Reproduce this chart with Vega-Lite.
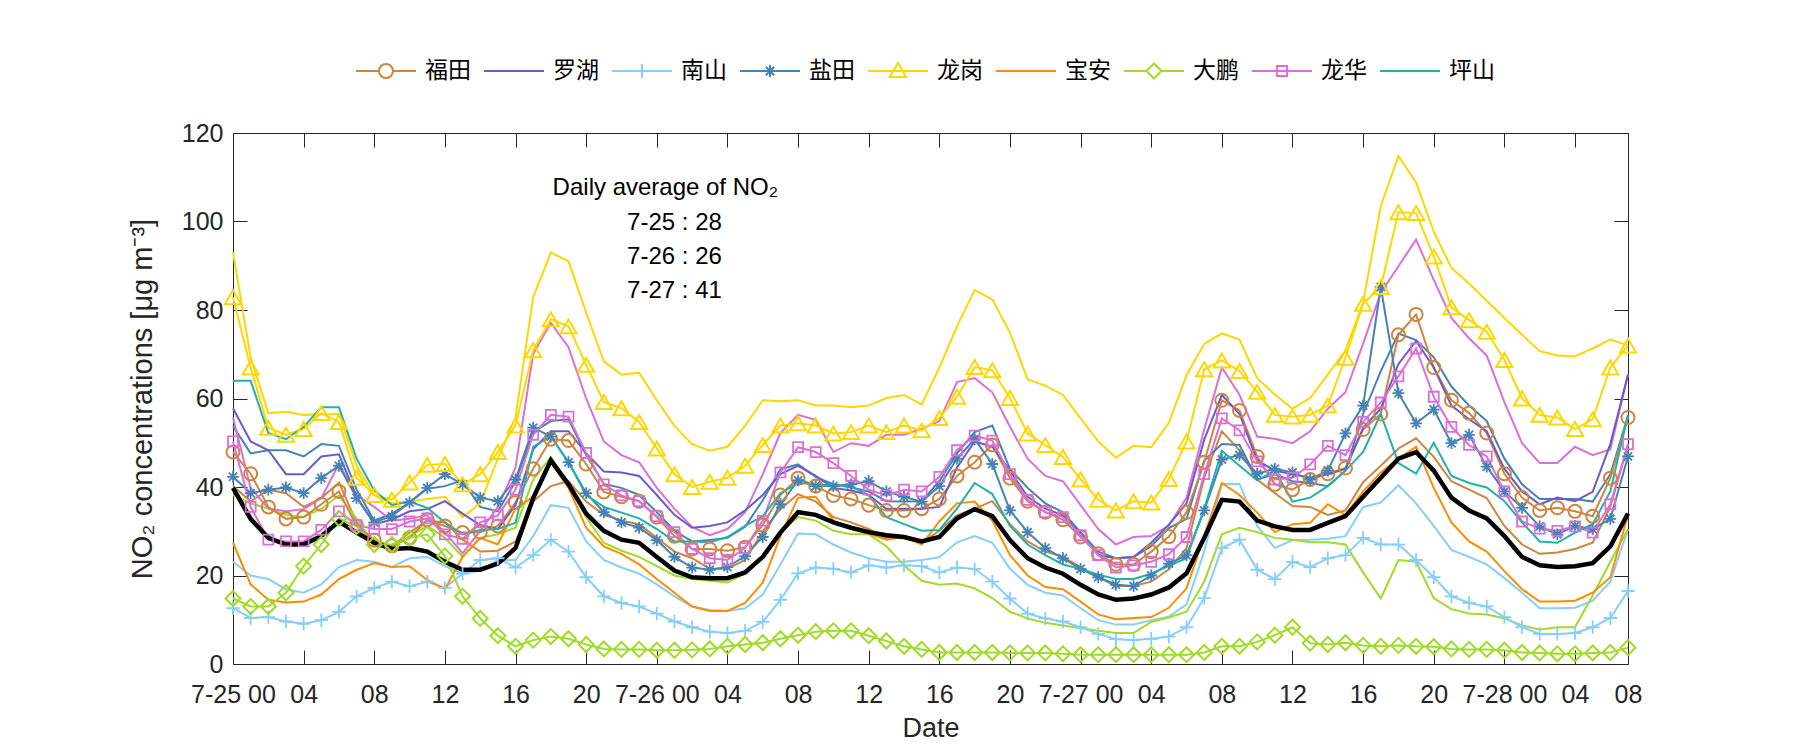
{
"$schema": "https://vega.github.io/schema/vega-lite/v6.json",
"width": 1395, "height": 531,
"autosize": {"type": "none"},
"padding": {"left": 233, "top": 133, "right": 172, "bottom": 86},
"background": "white",
"config": {
  "font": "Liberation Sans",
  "view": {"stroke": "#262626", "strokeWidth": 1},
  "axis": {"grid": false, "domain": false, "tickColor": "#262626", "labelColor": "#262626", "titleColor": "#262626", "labelFontSize": 25, "titleFontSize": 27, "titleFontWeight": "normal", "tickSize": -14, "tickWidth": 1}
},
"datasets": {
"obs": [
{"h":0,"福田":47.9,"罗湖":57.8,"南山":12.6,"盐田":42.3,"龙岗":82.9,"宝安":27.4,"大鹏":14.8,"龙华":50.3,"坪山":64,"avg":39.8},
{"h":1,"福田":43,"罗湖":50.3,"南山":10.4,"盐田":38.6,"龙岗":67,"宝安":18,"大鹏":13,"龙华":35.5,"坪山":64,"avg":32.8},
{"h":2,"福田":35.5,"罗湖":48.3,"南山":10.6,"盐田":39.4,"龙岗":53.4,"宝安":14.5,"大鹏":13,"龙华":28.1,"坪山":52.2,"avg":28.5},
{"h":3,"福田":32.8,"罗湖":42.9,"南山":9.6,"盐田":39.9,"龙岗":51.8,"宝安":13.9,"大鹏":16.1,"龙华":27.7,"坪山":50.8,"avg":27},
{"h":4,"福田":33.2,"罗湖":42.9,"南山":9.1,"盐田":38.6,"龙岗":53.1,"宝安":14.1,"大鹏":22.1,"龙华":27.7,"坪山":53.6,"avg":27},
{"h":5,"福田":36.1,"罗湖":46.9,"南山":9.9,"盐田":42,"龙岗":56.7,"宝安":15.7,"大鹏":27,"龙华":30.3,"坪山":58,"avg":28.9},
{"h":6,"福田":39,"罗湖":47.4,"南山":11.8,"盐田":44.8,"龙岗":54.7,"宝安":19.2,"大鹏":32.9,"龙华":34.5,"坪山":58,"avg":32.2},
{"h":7,"福田":31.2,"罗湖":37.8,"南山":15.3,"盐田":37.5,"龙岗":42.1,"宝安":21.3,"大鹏":31.1,"龙华":31.4,"坪山":46.4,"avg":29.7},
{"h":8,"福田":28,"罗湖":31.6,"南山":17.2,"盐田":32,"龙岗":38.2,"宝安":22.8,"大鹏":27,"龙华":30.5,"坪山":39.2,"avg":27.4},
{"h":9,"福田":26.7,"罗湖":32.6,"南山":18.6,"盐田":33.4,"龙岗":37.1,"宝安":21.9,"大鹏":27,"龙华":30.5,"坪山":35.9,"avg":26},
{"h":10,"福田":28.5,"罗湖":34.5,"南山":17.6,"盐田":36.5,"龙岗":41,"宝安":22.1,"大鹏":28.5,"龙华":32.2,"坪山":36.7,"avg":26.2},
{"h":11,"福田":32.6,"罗湖":35,"南山":18.6,"盐田":39.8,"龙岗":45,"宝安":19,"大鹏":29.3,"龙华":32.9,"坪山":35.3,"avg":25.4},
{"h":12,"福田":31.2,"罗湖":36.8,"南山":17.2,"盐田":42.9,"龙岗":45.2,"宝安":16.9,"大鹏":24.4,"龙华":29.3,"坪山":32,"avg":23.1},
{"h":13,"福田":29.7,"罗湖":34,"南山":20.4,"盐田":40.6,"龙岗":40.6,"宝安":24.2,"大鹏":15.3,"龙华":28.3,"坪山":29.3,"avg":21.3},
{"h":14,"福田":29.8,"罗湖":31.4,"南山":23.5,"盐田":37.6,"龙岗":42.9,"宝安":28.5,"大鹏":10.3,"龙华":32,"坪山":30.3,"avg":21.3},
{"h":15,"福田":31.2,"罗湖":30.5,"南山":23.9,"盐田":36.8,"龙岗":47.9,"宝安":27,"大鹏":6.4,"龙华":33.6,"坪山":30.5,"avg":22.7},
{"h":16,"福田":36.5,"罗湖":35.9,"南山":21.8,"盐田":41.7,"龙岗":53.9,"宝安":35.1,"大鹏":4,"龙华":39.4,"坪山":31.9,"avg":26.2},
{"h":17,"福田":44.1,"罗湖":48.5,"南山":24.6,"盐田":53.4,"龙岗":70.9,"宝安":37.8,"大鹏":5.4,"龙华":51.8,"坪山":49.1,"avg":37.5},
{"h":18,"福田":50.8,"罗湖":52.6,"南山":28.1,"盐田":51.4,"龙岗":77.9,"宝安":45.6,"大鹏":6.2,"龙华":56.3,"坪山":51.4,"avg":46},
{"h":19,"福田":50.5,"罗湖":52.6,"南山":25.4,"盐田":45.6,"龙岗":76.3,"宝安":39.8,"大鹏":5.7,"龙华":55.9,"坪山":45.6,"avg":40.6},
{"h":20,"福田":45.2,"罗湖":47.6,"南山":19.6,"盐田":38.6,"龙岗":67.6,"宝安":30.8,"大鹏":4.4,"龙华":47.7,"坪山":38.2,"avg":34},
{"h":21,"福田":38.9,"罗湖":43.5,"南山":15.3,"盐田":34.3,"龙岗":59.2,"宝安":26.6,"大鹏":3.4,"龙华":40.6,"坪山":35.5,"avg":30.1},
{"h":22,"福田":37.8,"罗湖":43.3,"南山":13.8,"盐田":32,"龙岗":57.8,"宝安":24.9,"大鹏":3.3,"龙华":38.1,"坪山":34.2,"avg":28.1},
{"h":23,"福田":36.8,"罗湖":42.5,"南山":13,"盐田":30.8,"龙岗":54.7,"宝安":22.5,"大鹏":3.3,"龙华":36.8,"坪山":32.9,"avg":27.4},
{"h":24,"福田":33.2,"罗湖":38.2,"南山":11.4,"盐田":28,"龙岗":48.7,"宝安":19.2,"大鹏":3.1,"龙华":33.4,"坪山":30.5,"avg":24.2},
{"h":25,"福田":28.9,"罗湖":33.7,"南山":9.6,"盐田":24.2,"龙岗":42.9,"宝安":16.1,"大鹏":3.1,"龙华":29.8,"坪山":27.7,"avg":21.1},
{"h":26,"福田":26,"罗湖":30.8,"南山":8.3,"盐田":21.8,"龙岗":40,"宝安":13,"大鹏":3.2,"龙华":26,"坪山":27.7,"avg":19.6},
{"h":27,"福田":26,"罗湖":31.2,"南山":7.3,"盐田":21.3,"龙岗":41.2,"宝安":12,"大鹏":3.4,"龙华":23.9,"坪山":27.5,"avg":19.4},
{"h":28,"福田":25.6,"罗湖":32,"南山":7,"盐田":21.9,"龙岗":42.1,"宝安":12,"大鹏":4,"龙华":23.5,"坪山":28.7,"avg":19.4},
{"h":29,"福田":26.4,"罗湖":34.7,"南山":7.5,"盐田":24.4,"龙岗":44.8,"宝安":13.8,"大鹏":4.4,"龙华":26.2,"坪山":31.2,"avg":20.7},
{"h":30,"福田":31.4,"罗湖":38.2,"南山":9.5,"盐田":28.7,"龙岗":49.5,"宝安":18.4,"大鹏":4.8,"龙华":32.4,"坪山":33.4,"avg":24.2},
{"h":31,"福田":38.2,"罗湖":42.9,"南山":14.5,"盐田":36.1,"龙岗":53.9,"宝安":28.9,"大鹏":5.7,"龙华":43.3,"坪山":38.6,"avg":29.7},
{"h":32,"福田":42,"罗湖":44.8,"南山":20.5,"盐田":41.5,"龙岗":54.4,"宝安":37.6,"大鹏":6.5,"龙华":49,"坪山":40.9,"avg":34.3},
{"h":33,"福田":40.2,"罗湖":42.5,"南山":21.8,"盐田":40.2,"龙岗":53.9,"宝安":37.8,"大鹏":7.3,"龙华":47.9,"坪山":40.6,"avg":33.7},
{"h":34,"福田":38.1,"罗湖":39.8,"南山":21.5,"盐田":40.2,"龙岗":52.1,"宝安":32.4,"大鹏":7.5,"龙华":45.4,"坪山":40.4,"avg":32},
{"h":35,"福田":37.3,"罗湖":39.2,"南山":20.7,"盐田":40.6,"龙岗":52.4,"宝安":30.5,"大鹏":7.5,"龙华":42.5,"坪山":40.2,"avg":30.8},
{"h":36,"福田":35.9,"罗湖":38.2,"南山":22.3,"盐田":41.3,"龙岗":53.9,"宝安":29.5,"大鹏":6.4,"龙华":39.4,"坪山":38.1,"avg":29.8},
{"h":37,"福田":34.7,"罗湖":35.1,"南山":21.8,"盐田":39,"龙岗":52.4,"宝安":28.1,"大鹏":5.2,"龙华":38.1,"坪山":33.2,"avg":29.1},
{"h":38,"福田":34.7,"罗湖":35.1,"南山":22.3,"盐田":37.8,"龙岗":53.9,"宝安":28.7,"大鹏":4,"龙华":39.4,"坪山":31.6,"avg":28.7},
{"h":39,"福田":35.1,"罗湖":35.1,"南山":22.1,"盐田":36.7,"龙岗":52.8,"宝安":27,"大鹏":3.3,"龙华":39,"坪山":30.1,"avg":27.7},
{"h":40,"福田":37.3,"罗湖":35.5,"南山":20.7,"盐田":40.2,"龙岗":55.6,"宝安":32.2,"大鹏":2.6,"龙华":42.3,"坪山":30.3,"avg":28.7},
{"h":41,"福田":42.5,"罗湖":44.4,"南山":21.8,"盐田":46.4,"龙岗":60.4,"宝安":36.3,"大鹏":2.6,"龙华":48.3,"坪山":35.1,"avg":32.9},
{"h":42,"福田":45.6,"罗湖":50.3,"南山":21.5,"盐田":50.8,"龙岗":67.1,"宝安":36.7,"大鹏":2.6,"龙华":51.6,"坪山":40.9,"avg":35},
{"h":43,"福田":49.5,"罗湖":49.1,"南山":18.6,"盐田":45.2,"龙岗":66.4,"宝安":32.4,"大鹏":2.6,"龙华":50.5,"坪山":38.4,"avg":33.4},
{"h":44,"福田":42,"罗湖":43.7,"南山":14.8,"盐田":34.7,"龙岗":60.1,"宝安":24.6,"大鹏":2.5,"龙华":42.9,"坪山":31.2,"avg":28},
{"h":45,"福田":36.8,"罗湖":37.8,"南山":11.4,"盐田":29.8,"龙岗":52.1,"宝安":20,"大鹏":2.5,"龙华":37.1,"坪山":27,"avg":23.9},
{"h":46,"福田":34.3,"罗湖":35.1,"南山":10.3,"盐田":26.2,"龙岗":49.5,"宝安":17.4,"大鹏":2.5,"龙华":34.3,"坪山":24.6,"avg":21.8},
{"h":47,"福田":32.6,"罗湖":33.6,"南山":9.6,"盐田":23.9,"龙岗":46.8,"宝安":16.9,"大鹏":2.3,"龙华":33.2,"坪山":22.5,"avg":20.4},
{"h":48,"福田":28.7,"罗湖":29.3,"南山":8.3,"盐田":21.5,"龙岗":41.7,"宝安":14.1,"大鹏":2.1,"龙华":29.1,"坪山":21.5,"avg":17.9},
{"h":49,"福田":24.9,"罗湖":24.6,"南山":6.8,"盐田":19.6,"龙岗":37.1,"宝安":11.2,"大鹏":2.1,"龙华":24.6,"坪山":20.2,"avg":15.7},
{"h":50,"福田":22.5,"罗湖":23.9,"南山":5.6,"盐田":17.9,"龙岗":34.7,"宝安":10.1,"大鹏":2.1,"龙华":21.8,"坪山":19.2,"avg":14.5},
{"h":51,"福田":22.5,"罗湖":24.2,"南山":5.4,"盐田":17.6,"龙岗":36.8,"宝安":10.4,"大鹏":2.1,"龙华":22.3,"坪山":19.2,"avg":14.8},
{"h":52,"福田":25.4,"罗湖":27.4,"南山":5.7,"盐田":20,"龙岗":36.5,"宝安":10.6,"大鹏":2.1,"龙华":23.1,"坪山":20.4,"avg":15.7},
{"h":53,"福田":28.8,"罗湖":31.5,"南山":6.2,"盐田":22.7,"龙岗":41.8,"宝安":12.7,"大鹏":2.1,"龙华":24.8,"坪山":22.2,"avg":17.3},
{"h":54,"福田":34.3,"罗湖":36.3,"南山":8.3,"盐田":24.6,"龙岗":50.3,"宝安":17.1,"大鹏":2.1,"龙华":28.7,"坪山":23.9,"avg":20.5},
{"h":55,"福田":45.6,"罗湖":50.7,"南山":14.9,"盐田":34.7,"龙岗":66.6,"宝安":28.9,"大鹏":2.6,"龙华":42.9,"坪山":35.1,"avg":28.5},
{"h":56,"福田":59.6,"罗湖":60.8,"南山":26.2,"盐田":46.2,"龙岗":68.6,"宝安":40.9,"大鹏":4,"龙华":55.5,"坪山":48.2,"avg":37.1},
{"h":57,"福田":57.3,"罗湖":56.5,"南山":28.1,"盐田":47.2,"龙岗":66.2,"宝安":38.2,"大鹏":4,"龙华":52.8,"坪山":44.8,"avg":36.7},
{"h":58,"福田":46.9,"罗湖":46,"南山":21.3,"盐田":43,"龙岗":61.5,"宝安":34.2,"大鹏":5,"龙华":45.8,"坪山":41.5,"avg":32.4},
{"h":59,"福田":40.6,"罗湖":43.7,"南山":19.2,"盐田":44.1,"龙岗":56.3,"宝安":29.8,"大鹏":6.5,"龙华":41.7,"坪山":43.7,"avg":31.1},
{"h":60,"福田":39.4,"罗湖":42.9,"南山":23.1,"盐田":43.3,"龙岗":55.9,"宝安":31.6,"大鹏":8.3,"龙华":42.1,"坪山":36.7,"avg":30.3},
{"h":61,"福田":41.7,"罗湖":42.1,"南山":21.9,"盐田":41.7,"龙岗":56.3,"宝安":31.9,"大鹏":4.7,"龙华":45.1,"坪山":37.6,"avg":30.3},
{"h":62,"福田":43,"罗湖":42.9,"南山":23.9,"盐田":43.7,"龙岗":58.4,"宝安":36.1,"大鹏":4.4,"龙华":49.3,"坪山":40.2,"avg":31.9},
{"h":63,"福田":44.3,"罗湖":44.1,"南山":24.6,"盐田":52.1,"龙岗":69.2,"宝安":33.7,"大鹏":4.8,"龙华":47.2,"坪山":43.7,"avg":33.4},
{"h":64,"福田":53,"罗湖":53.4,"南山":28.5,"盐田":58.4,"龙岗":81.4,"宝安":39,"大鹏":4.2,"龙华":54.7,"坪山":47.9,"avg":37.8},
{"h":65,"福田":56.5,"罗湖":57.7,"南山":27,"盐田":85.2,"龙岗":85.2,"宝安":43.3,"大鹏":4,"龙华":59.1,"坪山":56.5,"avg":42.1},
{"h":66,"福田":74.4,"罗湖":67.8,"南山":27,"盐田":61.2,"龙岗":102.1,"宝安":46.4,"大鹏":4.2,"龙华":65,"坪山":45.4,"avg":46.4},
{"h":67,"福田":79,"罗湖":73,"南山":23.5,"盐田":54.4,"龙岗":101.9,"宝安":49.1,"大鹏":4,"龙华":71.3,"坪山":43,"avg":47.9},
{"h":68,"福田":67,"罗湖":67,"南山":19.6,"盐田":57.5,"龙岗":92.1,"宝安":39.8,"大鹏":3.9,"龙华":60.4,"坪山":50,"avg":43.7},
{"h":69,"福田":59.6,"罗湖":58.4,"南山":15.3,"盐田":49.9,"龙岗":80.6,"宝安":32,"大鹏":3.4,"龙华":53.6,"坪山":42.5,"avg":37.6},
{"h":70,"福田":56.7,"罗湖":55.3,"南山":13.8,"盐田":51.8,"龙岗":77.7,"宝安":27.7,"大鹏":3.3,"龙华":49.5,"坪山":40.9,"avg":34.7},
{"h":71,"福田":52.2,"罗湖":52.6,"南山":13,"盐田":44.6,"龙岗":75.1,"宝安":25.4,"大鹏":3.3,"龙华":46.9,"坪山":39.9,"avg":32.9},
{"h":72,"福田":43,"罗湖":44.1,"南山":10.6,"盐田":39,"龙岗":68.7,"宝安":21,"大鹏":3.1,"龙华":39,"坪山":36.8,"avg":28.9},
{"h":73,"福田":37.6,"罗湖":39,"南山":8.3,"盐田":35.3,"龙岗":60,"宝安":16.9,"大鹏":2.6,"龙华":32.2,"坪山":32,"avg":24.2},
{"h":74,"福田":34.7,"罗湖":36.1,"南山":6.8,"盐田":31.1,"龙岗":56.3,"宝安":14.1,"大鹏":2.5,"龙华":30.6,"坪山":27.7,"avg":22.3},
{"h":75,"福田":35.3,"罗湖":37.6,"南山":6.8,"盐田":29.3,"龙岗":55.7,"宝安":14.1,"大鹏":2.3,"龙华":30.1,"坪山":27.4,"avg":21.9},
{"h":76,"福田":34.5,"罗湖":36.8,"南山":7,"盐田":31.2,"龙岗":53.1,"宝安":14.3,"大鹏":2.3,"龙华":31.1,"坪山":29.7,"avg":22.1},
{"h":77,"福田":33.4,"罗湖":38.9,"南山":8.3,"盐田":30.5,"龙岗":55.3,"宝安":16.1,"大鹏":2.5,"龙华":29.7,"坪山":31.6,"avg":22.8},
{"h":78,"福田":42,"罗湖":49.7,"南山":10.4,"盐田":32.8,"龙岗":67,"宝安":19.6,"大鹏":2.6,"龙华":36.1,"坪山":39,"avg":26.6},
{"h":79,"福田":55.7,"罗湖":65.4,"南山":16.5,"盐田":46.9,"龙岗":72,"宝安":33.7,"大鹏":3.7,"龙华":49.7,"坪山":56.3,"avg":34}
],
"sim": [
{"h":0,"福田":40.2,"南山":23.1,"盐田":53.8,"龙岗":93,"大鹏":38.2,"龙华":55.7},
{"h":1,"福田":36.7,"南山":20,"盐田":47.6,"龙岗":69.3,"大鹏":36.3,"龙华":39.8},
{"h":2,"福田":39.4,"南山":19.2,"盐田":48.3,"龙岗":56.7,"大鹏":35.1,"龙华":35.1},
{"h":3,"福田":38.6,"南山":16.9,"盐田":48.3,"龙岗":57,"大鹏":33.7,"龙华":34.5},
{"h":4,"福田":35.5,"南山":16.1,"盐田":46.9,"龙岗":56.3,"大鹏":33.2,"龙华":35},
{"h":5,"福田":37.5,"南山":18,"盐田":49.7,"龙岗":56.4,"大鹏":35.1,"龙华":37.5},
{"h":6,"福田":41,"南山":21.9,"盐田":49.3,"龙岗":56.5,"大鹏":38.1,"龙华":45.2},
{"h":7,"福田":32,"南山":23.5,"盐田":39.4,"龙岗":44.8,"大鹏":32.8,"龙华":38.2},
{"h":8,"福田":27.7,"南山":23.1,"盐田":32.4,"龙岗":38.1,"大鹏":26.6,"龙华":35.5},
{"h":9,"福田":26.6,"南山":21.9,"盐田":34,"龙岗":36.3,"大鹏":26.2,"龙华":32.4},
{"h":10,"福田":29.7,"南山":23.9,"盐田":36.5,"龙岗":36.8,"大鹏":28.9,"龙华":32.8},
{"h":11,"福田":32.4,"南山":24.2,"盐田":39.6,"龙岗":37.3,"大鹏":31.2,"龙华":33.6},
{"h":12,"福田":32,"南山":22.1,"盐田":40.2,"龙岗":37.8,"大鹏":28.5,"龙华":29.8},
{"h":13,"福田":28.1,"南山":20.4,"盐田":41.5,"龙岗":33.2,"大鹏":24.2,"龙华":25},
{"h":14,"福田":25.4,"南山":21.1,"盐田":35.5,"龙岗":36.3,"大鹏":28.5,"龙华":30.1},
{"h":15,"福田":25.6,"南山":23.5,"盐田":34.5,"龙岗":46.4,"大鹏":29.3,"龙华":35.5},
{"h":16,"福田":27.7,"南山":23.5,"盐田":41.3,"龙岗":55.7,"大鹏":30.8,"龙华":44.4},
{"h":17,"福田":36.7,"南山":28.9,"盐田":52.4,"龙岗":82.9,"大鹏":41.7,"龙华":70.1},
{"h":18,"福田":40.2,"南山":35.9,"盐田":54.9,"龙岗":93,"大鹏":46.8,"龙华":77.1},
{"h":19,"福田":41.3,"南山":35.3,"盐田":55.3,"龙岗":91,"大鹏":40.6,"龙华":71.6},
{"h":20,"福田":36.7,"南山":27.7,"盐田":47.2,"龙岗":79.4,"大鹏":33.2,"龙华":60},
{"h":21,"福田":33.7,"南山":23.5,"盐田":40.7,"龙岗":68.4,"大鹏":27.4,"龙华":50.3},
{"h":22,"福田":32.4,"南山":21.8,"盐田":39.8,"龙岗":65.4,"大鹏":25.6,"龙华":47.2},
{"h":23,"福田":31.6,"南山":20.4,"盐田":38.2,"龙岗":65.8,"大鹏":24.2,"龙华":45.6},
{"h":24,"福田":28.5,"南山":18,"盐田":34.3,"龙岗":59.6,"大鹏":22.1,"龙华":39.8},
{"h":25,"福田":25.4,"南山":15.3,"盐田":30.1,"龙岗":53.8,"大鹏":20,"龙华":35.1},
{"h":26,"福田":23.9,"南山":13,"盐田":27.7,"龙岗":49.7,"大鹏":19.2,"龙华":31},
{"h":27,"福田":21.5,"南山":12.2,"盐田":28,"龙岗":48.2,"大鹏":18.8,"龙华":29.1},
{"h":28,"福田":21.5,"南山":12,"盐田":28.5,"龙岗":49.1,"大鹏":18.4,"龙华":30.5},
{"h":29,"福田":23.5,"南山":12.6,"盐田":31,"龙岗":53.8,"大鹏":20.4,"龙华":34.3},
{"h":30,"福田":30,"南山":15.7,"盐田":37,"龙岗":59.6,"大鹏":24.2,"龙华":42.9},
{"h":31,"福田":35,"南山":22.5,"盐田":44,"龙岗":59.4,"大鹏":29.7,"龙华":52.2},
{"h":32,"福田":38.4,"南山":29.5,"盐田":45.1,"龙岗":59.6,"大鹏":33.2,"龙华":56.3},
{"h":33,"福田":36.7,"南山":29.3,"盐田":42.3,"龙岗":58.4,"大鹏":32.4,"龙华":55.2},
{"h":34,"福田":33.2,"南山":27,"盐田":40.6,"龙岗":58.4,"大鹏":30.1,"龙华":47.9},
{"h":35,"福田":32,"南山":25.2,"盐田":39.9,"龙岗":58,"大鹏":29.3,"龙华":49.9},
{"h":36,"福田":30.5,"南山":23.9,"盐田":39,"龙岗":58.4,"大鹏":29.3,"龙华":49.3},
{"h":37,"福田":28.5,"南山":23.1,"盐田":36.8,"龙岗":60.1,"大鹏":26.6,"龙华":51.8},
{"h":38,"福田":28.9,"南山":23.1,"盐田":36.7,"龙岗":60.8,"大鹏":22.3,"龙华":51.8},
{"h":39,"福田":27.4,"南山":23.5,"盐田":36.8,"龙岗":58.6,"大鹏":18.8,"龙华":53.1},
{"h":40,"福田":30.1,"南山":24.1,"盐田":41.3,"龙岗":67,"大鹏":17.9,"龙华":54.9},
{"h":41,"福田":33.6,"南山":27.5,"盐田":47.6,"龙岗":76.3,"大鹏":18.2,"龙华":63.7},
{"h":42,"福田":35.1,"南山":28.9,"盐田":52.4,"龙岗":84.5,"大鹏":17.1,"龙华":64.6},
{"h":43,"福田":36.8,"南山":27.4,"盐田":53.9,"龙岗":82.4,"大鹏":14.9,"龙华":61.4},
{"h":44,"福田":31.6,"南山":21.5,"盐田":44.1,"龙岗":74.9,"大鹏":11.8,"龙华":53.6},
{"h":45,"福田":27.7,"南山":17.9,"盐田":39.8,"龙岗":64.3,"大鹏":10.3,"龙华":46.4},
{"h":46,"福田":25.4,"南山":16.1,"盐田":36.3,"龙岗":62.9,"大鹏":9.3,"龙华":42.5},
{"h":47,"福田":24.2,"南山":15.5,"盐田":34.3,"龙岗":60.8,"大鹏":8.7,"龙华":41.3},
{"h":48,"福田":21.9,"南山":12.6,"盐田":29.8,"龙岗":55.5,"大鹏":8.1,"龙华":35.9},
{"h":49,"福田":19.6,"南山":9.9,"盐田":25.4,"龙岗":50.3,"大鹏":7.5,"龙华":30.5},
{"h":50,"福田":17.6,"南山":8.9,"盐田":23.9,"龙岗":46.6,"大鹏":7,"龙华":27},
{"h":51,"福田":17.6,"南山":8.9,"盐田":24.2,"龙岗":49.3,"大鹏":7,"龙华":28.7},
{"h":52,"福田":18.6,"南山":9.9,"盐田":26.6,"龙岗":49,"大鹏":9.5,"龙华":28.9},
{"h":53,"福田":21.4,"南山":10.7,"盐田":30.7,"龙岗":54.5,"大鹏":10.5,"龙华":31.3},
{"h":54,"福田":26.2,"南山":13.5,"盐田":32.8,"龙岗":65.3,"大鹏":11.8,"龙华":37.6},
{"h":55,"福田":42.1,"南山":25.4,"盐田":46,"龙岗":72.3,"大鹏":18.6,"龙华":53},
{"h":56,"福田":52.6,"南山":40.7,"盐田":49.7,"龙岗":74.7,"大鹏":29.3,"龙华":67},
{"h":57,"福田":48.3,"南山":40.7,"盐田":49.5,"龙岗":73.3,"大鹏":30.8,"龙华":60.8},
{"h":58,"福田":41.7,"南山":31.2,"盐田":41.7,"龙岗":64.6,"大鹏":29.8,"龙华":51.4},
{"h":59,"福田":38.6,"南山":26.2,"盐田":42.9,"龙岗":60.9,"大鹏":28.5,"龙华":50.9},
{"h":60,"福田":35.7,"南山":28,"盐田":41.3,"龙岗":57.7,"大鹏":28.1,"龙华":49.9},
{"h":61,"福田":35.5,"南山":28.1,"盐田":40.9,"龙岗":60.1,"大鹏":27.5,"龙华":52.6},
{"h":62,"福田":33.7,"南山":28.3,"盐田":40.2,"龙岗":65.4,"大鹏":27.5,"龙华":57.7},
{"h":63,"福田":34.7,"南山":28.9,"盐田":43.7,"龙岗":70.9,"大鹏":27,"龙华":61.4},
{"h":64,"福田":41.1,"南山":35.5,"盐田":56.5,"龙岗":81.7,"大鹏":20.7,"龙华":72.4},
{"h":65,"福田":44.8,"南山":36.5,"盐田":66.2,"龙岗":103.5,"大鹏":14.8,"龙华":83.9},
{"h":66,"福田":48.7,"南山":40.4,"盐田":74.7,"龙岗":114.8,"大鹏":23.5,"龙华":89.9},
{"h":67,"福田":51,"南山":36.3,"盐田":73.2,"龙岗":108.8,"大鹏":23.1,"龙华":95.9},
{"h":68,"福田":46.8,"南山":31.2,"盐田":69.3,"龙岗":97.7,"大鹏":14.9,"龙华":86.8},
{"h":69,"福田":41.3,"南山":25.8,"盐田":62.7,"龙岗":89.5,"大鹏":12.4,"龙华":78.2},
{"h":70,"福田":39.4,"南山":24.2,"盐田":58.4,"龙岗":86,"大鹏":11.4,"龙华":73.6},
{"h":71,"福田":37.5,"南山":22.5,"盐田":54.9,"龙岗":82.1,"大鹏":11.2,"龙华":69.7},
{"h":72,"福田":31.2,"南山":19.4,"盐田":46.4,"龙岗":78.2,"大鹏":10.3,"龙华":59.2},
{"h":73,"福田":27,"南山":16.1,"盐田":40.6,"龙岗":74.4,"大鹏":8.7,"龙华":49.9},
{"h":74,"福田":24.9,"南山":12.6,"盐田":37.3,"龙岗":70.7,"大鹏":7.8,"龙华":45.4},
{"h":75,"福田":25.2,"南山":12.6,"盐田":37.3,"龙岗":69.7,"大鹏":8.3,"龙华":45.4},
{"h":76,"福田":26,"南山":12.7,"盐田":37.3,"龙岗":69.5,"大鹏":8.3,"龙华":49.1},
{"h":77,"福田":27.4,"南山":14.3,"盐田":36.7,"龙岗":71.3,"大鹏":15.5,"龙华":47.2},
{"h":78,"福田":35.5,"南山":18.6,"盐田":42.9,"龙岗":73.3,"大鹏":23.1,"龙华":48.5},
{"h":79,"福田":49.5,"南山":30.5,"盐田":56.1,"龙岗":72,"大鹏":30.5,"龙华":65.4}
]
},
"resolve": {"axis": {"x": "independent", "y": "independent"}, "legend": {"color": "independent", "shape": "independent"}},
"layer": [
{
  "data": {"name": "sim"},
  "transform": [{"fold": ["福田","南山","盐田","龙岗","大鹏","龙华"], "as": ["st","v"]}],
  "mark": {"type": "line", "strokeWidth": 2},
  "encoding": {
    "x": {"field": "h", "type": "quantitative", "scale": {"domain": [0,79], "nice": false, "zero": false},
      "axis": {"orient": "bottom", "title": "Date", "titlePadding": 8, "values": [0,4,8,12,16,20,24,28,32,36,40,44,48,52,56,60,64,68,72,76,79], "labelPadding": 32, "labelOverlap": false, "labelFlush": false, "labelBound": false,
        "labelExpr": "datum.value == 0 ? '7-25 00' : datum.value == 24 ? '7-26 00' : datum.value == 48 ? '7-27 00' : datum.value == 72 ? '7-28 00' : datum.value == 79 ? '08' : ((datum.value % 24) < 10 ? '0' : '') + (datum.value % 24)"}},
    "y": {"field": "v", "type": "quantitative", "scale": {"domain": [0,120], "nice": false},
      "axis": {"orient": "left", "title": "NO₂ concentrations [μg m⁻³]", "titleFontSize": 29, "values": [0,20,40,60,80,100,120], "labelPadding": 24, "titlePadding": 24}},
    "color": {"field": "st", "type": "nominal", "legend": null,
      "scale": {"domain": ["福田","罗湖","南山","盐田","龙岗","宝安","大鹏","龙华","坪山"], "range": ["#CD853F","#6A5ACD","#87CEFA","#4682B4","#FFD700","#FF8C00","#9FDC26","#DA70D6","#20B2AA"]}},
    "detail": {"field": "st", "type": "nominal"}
  }
},
{
  "data": {"name": "obs"},
  "transform": [{"fold": ["福田","罗湖","南山","盐田","龙岗","宝安","大鹏","龙华","坪山"], "as": ["st","v"]}],
  "mark": {"type": "line", "strokeWidth": 2},
  "encoding": {
    "x": {"field": "h", "type": "quantitative", "scale": {"domain": [0,79], "nice": false, "zero": false}, "axis": null},
    "y": {"field": "v", "type": "quantitative", "scale": {"domain": [0,120], "nice": false}, "axis": null},
    "color": {"field": "st", "type": "nominal", "legend": null}
  }
},
{
  "data": {"name": "obs"},
  "mark": {"type": "line", "strokeWidth": 4.5, "color": "black"},
  "encoding": {
    "x": {"field": "h", "type": "quantitative", "scale": {"domain": [0,79], "nice": false, "zero": false}, "axis": null},
    "y": {"field": "avg", "type": "quantitative", "scale": {"domain": [0,120], "nice": false}, "axis": null}
  }
},
{
  "data": {"name": "obs"},
  "transform": [{"fold": ["福田"], "as": ["st","v"]}],
  "mark": {"type": "point", "shape": "circle", "size": 170, "filled": false, "strokeWidth": 2, "opacity": 1},
  "encoding": {
    "x": {"field": "h", "type": "quantitative", "scale": {"domain": [0,79], "nice": false, "zero": false}, "axis": null},
    "y": {"field": "v", "type": "quantitative", "scale": {"domain": [0,120], "nice": false}, "axis": null},
    "color": {"field": "st", "type": "nominal", "legend": null}
  }
},
{
  "data": {"name": "obs"},
  "transform": [{"fold": ["南山"], "as": ["st","v"]}],
  "mark": {"type": "point", "shape": "M-1,0H1M0,-1V1", "size": 180, "filled": false, "strokeWidth": 1.8, "opacity": 1},
  "encoding": {
    "x": {"field": "h", "type": "quantitative", "scale": {"domain": [0,79], "nice": false, "zero": false}, "axis": null},
    "y": {"field": "v", "type": "quantitative", "scale": {"domain": [0,120], "nice": false}, "axis": null},
    "color": {"field": "st", "type": "nominal", "legend": null}
  }
},
{
  "data": {"name": "obs"},
  "transform": [{"fold": ["盐田"], "as": ["st","v"]}],
  "mark": {"type": "point", "shape": "M-1,0H1M0,-1V1M-0.7,-0.7L0.7,0.7M-0.7,0.7L0.7,-0.7", "size": 140, "filled": false, "strokeWidth": 1.8, "opacity": 1},
  "encoding": {
    "x": {"field": "h", "type": "quantitative", "scale": {"domain": [0,79], "nice": false, "zero": false}, "axis": null},
    "y": {"field": "v", "type": "quantitative", "scale": {"domain": [0,120], "nice": false}, "axis": null},
    "color": {"field": "st", "type": "nominal", "legend": null}
  }
},
{
  "data": {"name": "obs"},
  "transform": [{"fold": ["龙岗"], "as": ["st","v"]}],
  "mark": {"type": "point", "shape": "triangle-up", "size": 260, "filled": false, "strokeWidth": 2, "opacity": 1},
  "encoding": {
    "x": {"field": "h", "type": "quantitative", "scale": {"domain": [0,79], "nice": false, "zero": false}, "axis": null},
    "y": {"field": "v", "type": "quantitative", "scale": {"domain": [0,120], "nice": false}, "axis": null},
    "color": {"field": "st", "type": "nominal", "legend": null}
  }
},
{
  "data": {"name": "obs"},
  "transform": [{"fold": ["大鹏"], "as": ["st","v"]}],
  "mark": {"type": "point", "shape": "diamond", "size": 225, "filled": false, "strokeWidth": 2, "opacity": 1},
  "encoding": {
    "x": {"field": "h", "type": "quantitative", "scale": {"domain": [0,79], "nice": false, "zero": false}, "axis": null},
    "y": {"field": "v", "type": "quantitative", "scale": {"domain": [0,120], "nice": false}, "axis": null},
    "color": {"field": "st", "type": "nominal", "legend": null}
  }
},
{
  "data": {"name": "obs"},
  "transform": [{"fold": ["龙华"], "as": ["st","v"]}],
  "mark": {"type": "point", "shape": "square", "size": 100, "filled": false, "strokeWidth": 1.8, "opacity": 1},
  "encoding": {
    "x": {"field": "h", "type": "quantitative", "scale": {"domain": [0,79], "nice": false, "zero": false}, "axis": null},
    "y": {"field": "v", "type": "quantitative", "scale": {"domain": [0,120], "nice": false}, "axis": null},
    "color": {"field": "st", "type": "nominal", "legend": null}
  }
},
{
  "data": {"name": "obs"},
  "transform": [{"fold": ["福田","罗湖","南山","盐田","龙岗","宝安","大鹏","龙华","坪山"], "as": ["st","v"]}, {"filter": "datum.h == 0"}],
  "mark": {"type": "point", "filled": false, "opacity": 0, "strokeWidth": 2},
  "encoding": {
    "x": {"field": "h", "type": "quantitative", "scale": {"domain": [0,79], "nice": false, "zero": false}, "axis": null},
    "y": {"field": "v", "type": "quantitative", "scale": {"domain": [0,120], "nice": false}, "axis": null},
    "color": {"field": "st", "type": "nominal",
      "legend": {"title": null, "orient": "none", "legendX": 122, "legendY": -93, "direction": "horizontal", "columns": 9, "symbolSize": 3600, "symbolStrokeWidth": 2, "labelFontSize": 23, "labelFont": "Noto Sans CJK SC", "labelColor": "#000000", "labelOffset": 8, "columnPadding": 9, "padding": 0, "symbolOpacity": 1}},
    "shape": {"field": "st", "type": "nominal",
      "scale": {"domain": ["福田","罗湖","南山","盐田","龙岗","宝安","大鹏","龙华","坪山"],
        "range": [
          "M-1,0H-0.233M0.233,0H1M0.233,0A0.233,0.233,0,1,1,-0.233,0A0.233,0.233,0,1,1,0.233,0Z",
          "M-1,0H1",
          "M-1,0H1M0,-0.23V0.23",
          "M-1,0H1M0,-0.2V0.2M-0.14,-0.14L0.14,0.14M-0.14,0.14L0.14,-0.14",
          "M-1,0H1M0,-0.27L0.27,0.2L-0.27,0.2Z",
          "M-1,0H1",
          "M-1,0H-0.25M0.25,0H1M0,-0.25L0.25,0L0,0.25L-0.25,0Z",
          "M-1,0H1M-0.17,-0.17H0.17V0.17H-0.17Z",
          "M-1,0H1"]},
      "legend": {"title": null, "orient": "none", "legendX": 122, "legendY": -93, "direction": "horizontal", "columns": 9, "symbolSize": 3600, "symbolStrokeWidth": 2, "labelFontSize": 23, "labelFont": "Noto Sans CJK SC", "labelColor": "#000000", "labelOffset": 8, "columnPadding": 9, "padding": 0, "symbolOpacity": 1}}
  }
},
{
  "data": {"name": "obs"},
  "mark": {"type": "line", "opacity": 0},
  "encoding": {
    "x": {"field": "h", "type": "quantitative", "scale": {"domain": [0,79], "nice": false, "zero": false},
      "axis": {"orient": "top", "labels": false, "title": null, "values": [0,4,8,12,16,20,24,28,32,36,40,44,48,52,56,60,64,68,72,76,79]}},
    "y": {"field": "avg", "type": "quantitative", "scale": {"domain": [0,120], "nice": false},
      "axis": {"orient": "right", "labels": false, "title": null, "values": [0,20,40,60,80,100,120]}}
  }
},
{
  "data": {"values": [{"h": 18.1, "v": 107.5, "t": "Daily average of NO₂"}]},
  "mark": {"type": "text", "align": "left", "baseline": "middle", "fontSize": 24, "color": "#000000"},
  "encoding": {
    "x": {"field": "h", "type": "quantitative", "scale": {"domain": [0,79], "nice": false, "zero": false}, "axis": null},
    "y": {"field": "v", "type": "quantitative", "scale": {"domain": [0,120], "nice": false}, "axis": null},
    "text": {"field": "t"}
  }
},
{
  "data": {"values": [{"h": 25, "v": 99.6, "t": "7-25 : 28"}, {"h": 25, "v": 91.9, "t": "7-26 : 26"}, {"h": 25, "v": 84.2, "t": "7-27 : 41"}]},
  "mark": {"type": "text", "align": "center", "baseline": "middle", "fontSize": 24, "color": "#000000"},
  "encoding": {
    "x": {"field": "h", "type": "quantitative", "scale": {"domain": [0,79], "nice": false, "zero": false}, "axis": null},
    "y": {"field": "v", "type": "quantitative", "scale": {"domain": [0,120], "nice": false}, "axis": null},
    "text": {"field": "t"}
  }
}
]
}
